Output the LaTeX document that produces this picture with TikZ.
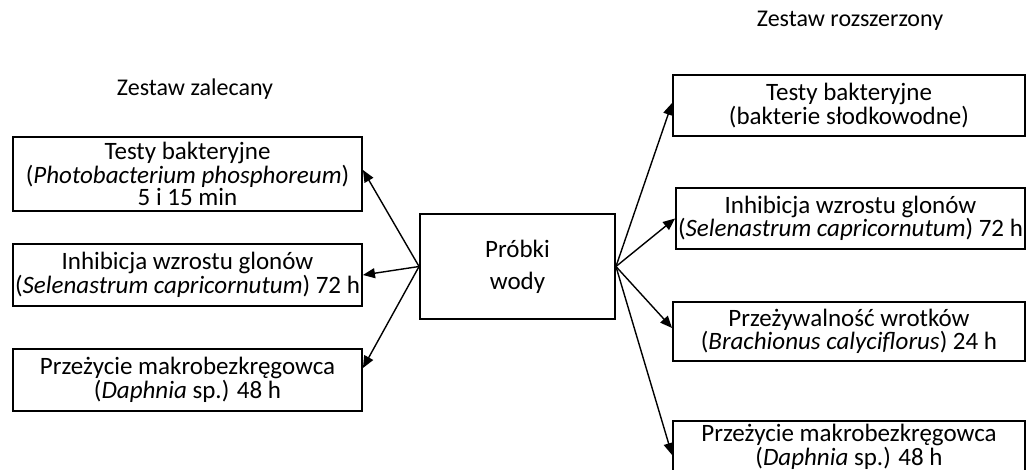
\documentclass[tikz,border=0pt]{standalone}
\usepackage{fontspec}
\setmainfont{Carlito}
\usetikzlibrary{arrows.meta}
\begin{document}
\begin{tikzpicture}[x=1pt,y=-1pt,
  testbox/.style={draw,line width=1.9pt,align=center,inner sep=0pt,
    font=\fontsize{25}{22}\selectfont},
  sample/.style={draw,line width=1.9pt,align=center,inner sep=0pt,
    minimum width=195pt,minimum height=105pt,font=\fontsize{25}{32}\selectfont},
  heading/.style={font=\fontsize{24}{26}\selectfont,inner sep=0pt},
  link/.style={line width=1.4pt,-{Triangle[length=12pt,width=10pt]}}]
\useasboundingbox (0,0) rectangle (1027,470);
\begin{scope}
\clip (0,0) rectangle (1027,470);
% headings of the two test sets
\node[heading] (hl) at (195,89) {Zestaw zalecany};
\node[heading] (hr) at (850,21) {Zestaw rozszerzony};
% central node
\node[sample] (c) at (517.5,266.5) {Próbki\\wody};
% recommended set
\node[testbox,minimum width=349pt,minimum height=74pt] (l1) at (187.5,174)
  {Testy bakteryjne\\(\textit{Photobacterium phosphoreum})\\5 i 15 min};
\node[testbox,minimum width=349pt,minimum height=62pt] (l2) at (187.5,275)
  {Inhibicja wzrostu glonów\\(\textit{Selenastrum capricornutum}) 72 h};
\node[testbox,minimum width=349pt,minimum height=62pt] (l3) at (187.5,380)
  {Przeżycie makrobezkręgowca\\(\textit{Daphnia} sp.) 48 h};
% extended set
\node[testbox,minimum width=352pt,minimum height=61pt] (r1) at (849,105.5)
  {Testy bakteryjne\\(bakterie słodkowodne)};
\node[testbox,minimum width=349pt,minimum height=61pt] (r2) at (850.5,218.5)
  {Inhibicja wzrostu glonów\\(\textit{Selenastrum capricornutum}) 72 h};
\node[testbox,minimum width=352pt,minimum height=59pt] (r3) at (849,331.5)
  {Przeżywalność wrotków\\(\textit{Brachionus calyciflorus}) 24 h};
\node[testbox,minimum width=352pt,minimum height=52pt] (r4) at (849,447)
  {Przeżycie makrobezkręgowca\\(\textit{Daphnia} sp.) 48 h};
% connectors
\draw[link] (c.west) -- ([yshift=4pt]l1.east);
\draw[link] (c.west) -- (l2.east);
\draw[link] (c.west) -- ([yshift=12pt]l3.east);
\draw[link] (c.east) -- ([yshift=2.5pt]r1.west);
\draw[link] (c.east) -- (r2.west);
\draw[link] (c.east) -- ([yshift=3.5pt]r3.west);
\draw[link] (c.east) -- ([yshift=-8pt]r4.west);
\end{scope}
\end{tikzpicture}
\end{document}
